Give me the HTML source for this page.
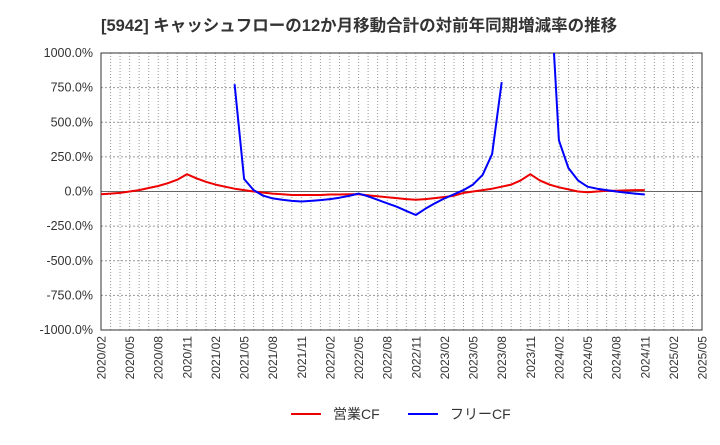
<!DOCTYPE html>
<html><head><meta charset="utf-8"><style>
body{margin:0;background:#fff;}
svg text{font-family:"Liberation Sans","Noto Sans CJK JP",sans-serif;}
</style></head><body>
<svg id="chart" width="720" height="440" xmlns="http://www.w3.org/2000/svg">
<text x="101" y="31" font-size="16.5" font-weight="bold" fill="#333">[5942]  キャッシュフローの12か月移動合計の対前年同期増減率の推移</text>
<defs><clipPath id="clip"><rect x="101" y="53" width="601" height="277"/></clipPath></defs>
<g id="grid"></g><g id="axes"></g><g id="series" clip-path="url(#clip)"></g>
<g>
<line x1="291" y1="414" x2="321" y2="414" stroke="#e00" stroke-width="2"/>
<text x="333" y="419" font-size="14" fill="#333">営業CF</text>
<line x1="408" y1="414" x2="438" y2="414" stroke="#00f" stroke-width="2"/>
<text x="450" y="419" font-size="14" fill="#333">フリーCF</text>
</g>
</svg>
<script>
const tickLabels=["2020/02","2020/05","2020/08","2020/11","2021/02","2021/05","2021/08","2021/11","2022/02","2022/05","2022/08","2022/11","2023/02","2023/05","2023/08","2023/11","2024/02","2024/05","2024/08","2024/11","2025/02","2025/05"];
const yTicks=[1000,750,500,250,0,-250,-500,-750,-1000];
const opCF=[-20,-15,-10,0,10,25,40,60,85,125,95,70,50,35,20,10,0,-8,-15,-20,-25,-25,-25,-25,-22,-22,-20,-20,-28,-35,-42,-48,-55,-60,-55,-48,-40,-30,-10,0,10,20,35,50,80,125,80,50,30,15,0,-5,0,5,5,8,10,10];
const freeCF=[null,null,null,null,null,null,null,null,null,null,null,null,null,null,775,90,10,-30,-50,-60,-68,-72,-68,-62,-55,-45,-32,-15,-35,-60,-85,-110,-140,-170,-125,-85,-50,-20,10,50,120,270,790,null,null,null,null,1590,370,170,80,35,20,10,0,-8,-15,-22];
const L=101,R=702,T=53,B=330,N=63;
const xs=i=>L+(R-L)*i/N, ys=v=>T+(B-T)*(1000-v)/2000;
const ns="http://www.w3.org/2000/svg";
function mk(tag,attrs,parent){const e=document.createElementNS(ns,tag);for(const k in attrs)e.setAttribute(k,attrs[k]);parent.appendChild(e);return e;}
const grid=document.getElementById('grid'),axes=document.getElementById('axes'),ser=document.getElementById('series');
for(let i=1;i<N;i++){const l=mk('line',{x1:xs(i),x2:xs(i),y1:T,y2:B,stroke:'#999','stroke-dasharray':'1,2'},grid);

}
yTicks.forEach(v=>{const y=ys(v);
if(v!==1000&&v!==-1000){const l=mk('line',{x1:L,x2:R,y1:y,y2:y,stroke:v===0?'#666':'#999','stroke-dasharray':v===0?'':'2,2'},grid);

}
const t=mk('text',{x:L-8,y:y+4,'text-anchor':'end','font-size':'12.5',fill:'#333'},axes);t.textContent=v.toFixed(1)+'%';

});
tickLabels.forEach((s,k)=>{const x=xs(k*3);
const t=mk('text',{x:0,y:0,'text-anchor':'end','font-size':'12',fill:'#333',transform:`translate(${x+4.5},336) rotate(-90)`},axes);t.textContent=s;

});
const fr=mk('rect',{x:L,y:T,width:R-L,height:B-T,fill:'none',stroke:'#333'},axes);


function draw(arr,color,name){let d='',pen=false;arr.forEach((v,i)=>{if(v===null){pen=false;return;}d+=(pen?'L':'M')+xs(i).toFixed(1)+','+ys(v).toFixed(1);pen=true;});
const p=mk('path',{d:d,fill:'none',stroke:color,'stroke-width':2,'stroke-linejoin':'round'},ser);

}
draw(opCF,'#e00','operating-cf-line');
draw(freeCF,'#00f','free-cf-line');
</script>
</body></html>
